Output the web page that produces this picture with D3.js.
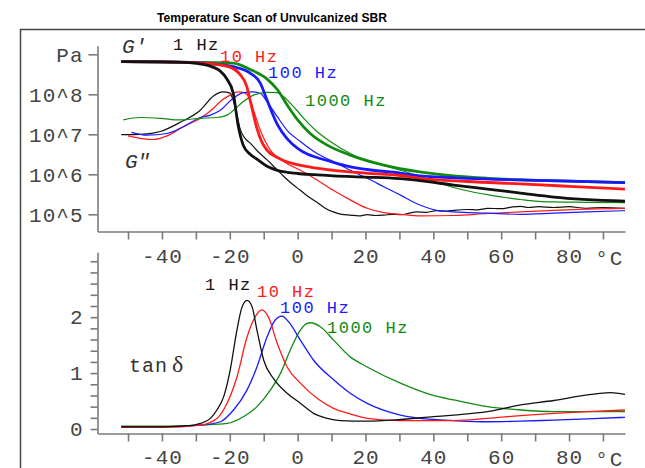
<!DOCTYPE html>
<html lang="en">
<head>
<meta charset="UTF-8">
<title>Temperature Scan of Unvulcanized SBR</title>
<script src="https://d3js.org/d3.v7.min.js"></script>
<style>
  body { margin: 0; background: #fff; }
  svg { display: block; }
  .axis text { font-family: "Liberation Mono", monospace; font-size: 21px; letter-spacing: 1px; fill: #444; }
  .axis path, .axis line { stroke: #7a7a7a; stroke-width: 1.6; }
  .lbl { font-family: "Liberation Mono", monospace; font-size: 17px; letter-spacing: 1.5px; }
</style>
</head>
<body>
<div id="chart"></div>
<script>
  // [temperature °C, log10(modulus / Pa)]
  const gp1 = [[-52, 8.815], [-40, 8.81], [-32, 8.79], [-28, 8.75], [-25, 8.68], [-22.8, 8.58], [-21, 8.4], [-19, 8.03], [-17.5, 7.2], [-16, 6.72], [-14, 6.5], [-12, 6.38], [-9, 6.2], [-6, 6.1], [-3, 6.05], [0, 6.02], [5, 5.99], [10.5, 5.96], [20, 5.93], [30, 5.89], [36, 5.84], [46, 5.73], [56, 5.63], [65.7, 5.53], [75.5, 5.43], [96.5, 5.33]];
  const gp10 = [[-52, 8.815], [-40, 8.81], [-30, 8.79], [-25, 8.76], [-20, 8.68], [-17, 8.5], [-15, 8.2], [-14, 7.85], [-12, 7.15], [-10.5, 6.8], [-9, 6.6], [-6, 6.42], [-4, 6.34], [0, 6.24], [5, 6.16], [10.5, 6.1], [20, 6.03], [30.3, 5.97], [36, 5.9], [50, 5.82], [65.7, 5.76], [80, 5.7], [96.5, 5.63]];
  const gp100 = [[-50, 8.815], [-40, 8.81], [-30, 8.79], [-25, 8.76], [-19, 8.69], [-14, 8.53], [-11, 8.28], [-9, 7.85], [-6, 7.25], [-3, 6.88], [0, 6.65], [3, 6.5], [5.7, 6.42], [10.5, 6.3], [15, 6.2], [20.5, 6.12], [30.3, 6.03], [36, 5.96], [50, 5.9], [65.7, 5.86], [80, 5.83], [96.5, 5.79]];
  const gp1000 = [[-52, 8.815], [-30, 8.8], [-19, 8.78], [-14, 8.62], [-9, 8.38], [-6, 8.12], [-3, 7.72], [0, 7.36], [3.7, 7.02], [8.7, 6.73], [15.5, 6.48], [25.4, 6.23], [36, 6.06], [46, 5.96], [56, 5.9], [65.7, 5.86], [80, 5.83], [96.5, 5.79]];

  const gpp1 = [[-52, 6.99], [-46, 7.0], [-40.5, 7.07], [-34.6, 7.3], [-28.7, 7.6], [-24.8, 7.96], [-22, 8.06], [-20, 8.03], [-18.8, 7.8], [-17.9, 7.5], [-17, 7.15], [-15.5, 6.9], [-14, 6.78], [-11.5, 6.55], [-9, 6.36], [-6.5, 6.15], [-4, 5.94], [-1.5, 5.75], [0.8, 5.6], [3, 5.45], [5.7, 5.3], [8, 5.16], [10.5, 5.06], [13, 5.0], [15.5, 4.98], [18, 4.96], [20.5, 4.99], [23, 4.97], [25.4, 4.98], [28, 5.0], [30.5, 4.99], [33, 5.03], [35, 5.06], [38, 5.05], [41, 5.09], [44, 5.08], [46, 5.1], [50, 5.12], [53, 5.11], [56, 5.15], [60, 5.14], [63, 5.18], [65.7, 5.2], [68, 5.17], [71, 5.19], [75.5, 5.17], [80, 5.19], [85, 5.15], [90, 5.17], [96.5, 5.15]];
  const gpp10 = [[-50, 6.96], [-46.4, 6.9], [-42.5, 6.87], [-38.5, 6.96], [-33.7, 7.19], [-28.7, 7.4], [-24.8, 7.65], [-22.8, 7.82], [-19.9, 7.98], [-17.5, 8.06], [-15.5, 8.03], [-14, 7.85], [-13, 7.6], [-11, 7.1], [-8, 6.6], [-4.1, 6.32], [0.8, 6.1], [5.7, 5.86], [10.5, 5.6], [15.5, 5.36], [20.5, 5.15], [25.4, 5.04], [30.3, 5.0], [36, 4.96], [46, 4.97], [56, 5.02], [65.7, 5.06], [75.5, 5.1], [85, 5.13], [96.5, 5.15]];
  const gpp100 = [[-49, 7.05], [-44.4, 6.98], [-38.5, 7.02], [-33.7, 7.19], [-28.7, 7.42], [-25.7, 7.48], [-22.8, 7.6], [-19, 7.9], [-16, 8.04], [-13, 8.06], [-11, 8.02], [-9, 7.82], [-6, 7.44], [-3.1, 7.1], [0.8, 6.82], [5.7, 6.52], [10.5, 6.32], [15.5, 6.1], [20.5, 5.9], [25.4, 5.69], [30.3, 5.48], [35, 5.27], [41, 5.1], [46, 5.06], [56, 5.03], [65.7, 5.0], [75.5, 5.03], [85, 5.06], [96.5, 5.09]];
  const gpp1000 = [[-51.4, 7.36], [-46.4, 7.42], [-40.5, 7.4], [-34.6, 7.36], [-28.7, 7.4], [-23.8, 7.42], [-20.8, 7.48], [-18.9, 7.6], [-16, 7.82], [-13, 7.98], [-9, 8.05], [-6, 8.04], [-4.1, 7.94], [-1.2, 7.69], [1.8, 7.4], [5.7, 7.07], [10.5, 6.77], [15.5, 6.52], [20.5, 6.33], [25.4, 6.22], [30.3, 6.1], [36, 5.95], [41, 5.8], [46, 5.67], [51, 5.57], [56, 5.49], [61, 5.42], [65.7, 5.37], [70, 5.33], [75.5, 5.31], [85, 5.3], [96.5, 5.29]];

  // [temperature °C, tan delta]
  const tan1 = [[-52, 0.04], [-40, 0.04], [-32, 0.06], [-28.7, 0.1], [-25.7, 0.19], [-23.8, 0.34], [-21.8, 0.58], [-19.9, 1.05], [-17.9, 1.77], [-16.4, 2.18], [-14.9, 2.3], [-13.4, 2.18], [-12, 1.77], [-10, 1.23], [-7.1, 0.9], [-3.1, 0.64], [0.8, 0.46], [4.7, 0.28], [8.7, 0.19], [12.6, 0.15], [20.5, 0.14], [30.3, 0.17], [40, 0.22], [46, 0.25], [55.9, 0.31], [65.7, 0.43], [75.5, 0.51], [85.4, 0.61], [92.2, 0.65], [96.5, 0.62]];
  const tan10 = [[-52, 0.03], [-40, 0.03], [-28.7, 0.07], [-23.8, 0.19], [-20.8, 0.46], [-17.9, 0.93], [-14.9, 1.65], [-13, 1.95], [-10.5, 2.13], [-8.6, 2.0], [-6, 1.53], [-3.1, 1.11], [0.8, 0.82], [5.7, 0.55], [10.6, 0.37], [15.5, 0.27], [20.5, 0.19], [30.3, 0.15], [40, 0.15], [46, 0.15], [56, 0.19], [65.7, 0.24], [75.5, 0.28], [85.4, 0.31], [96.5, 0.34]];
  const tan100 = [[-52, 0.04], [-40, 0.04], [-28.7, 0.07], [-22.8, 0.13], [-18.9, 0.34], [-14.9, 0.7], [-12, 1.11], [-9, 1.65], [-6.6, 1.95], [-4.6, 2.02], [-2.7, 1.92], [0.8, 1.59], [4.7, 1.23], [10.6, 0.88], [15.5, 0.64], [20.5, 0.46], [30.3, 0.25], [40, 0.17], [46, 0.15], [56, 0.13], [65.7, 0.14], [75.5, 0.16], [85.4, 0.18], [96.5, 0.21]];
  const tan1000 = [[-52, 0.05], [-40, 0.05], [-28.7, 0.07], [-20.8, 0.1], [-16, 0.22], [-12, 0.4], [-8, 0.7], [-5.1, 0.99], [-2.2, 1.41], [0.8, 1.77], [2.8, 1.89], [3.7, 1.9], [6.7, 1.83], [10.6, 1.59], [15.5, 1.29], [20.5, 1.11], [30.3, 0.82], [40, 0.6], [46, 0.52], [56, 0.4], [65.7, 0.34], [75.5, 0.31], [85.4, 0.31], [96.5, 0.31]];

  const freqs = ["1 Hz", "10 Hz", "100 Hz", "1000 Hz"];
  const colors = ["#111111", "#ff1a1a", "#1a1aff", "#118a11"];

  const xTicks = d3.range(-50, 91, 10);
  const modTicks = [1e5, 1e6, 1e7, 1e8, 1e9];
  const tanTicks = d3.range(16).map(i => i / 5);

  const width = 645, height = 468;
  const xLeft = 97.5, xRight = 625;

  const svg = d3.select("#chart").append("svg")
    .attr("width", width)
    .attr("height", height);

  // outer frame (runs off the page right and bottom)
  svg.append("path")
    .attr("d", `M20.5,${height + 5}V29.5H${width + 5}`)
    .attr("fill", "none")
    .attr("stroke", "#444")
    .attr("stroke-width", 1.5);

  svg.append("text")
    .attr("x", 272)
    .attr("y", 21.5)
    .attr("text-anchor", "middle")
    .attr("textLength", 230)
    .attr("lengthAdjust", "spacingAndGlyphs")
    .style("font-family", '"Liberation Sans Narrow", "Liberation Sans", sans-serif')
    .style("font-weight", "bold")
    .style("font-size", "13px")
    .text("Temperature Scan of Unvulcanized SBR");

  const x = d3.scaleLinear().domain([-59, 96.5]).range([xLeft, xRight]);
  const yMod = d3.scaleLog().domain([10 ** 4.57, 10 ** 9.215]).range([231.5, 45.7]);
  const yTan = d3.scaleLinear().domain([-0.08, 3.16]).range([433.5, 252.3]);

  const xAxis = pad => d3.axisBottom(x)
    .tickValues(xTicks)
    .tickSize(8)
    .tickSizeOuter(0)
    .tickPadding(pad)
    .tickFormat(d => (d % 20 === 0 ? String(d) : ""));

  // top panel axes
  svg.append("g").attr("class", "axis")
    .attr("transform", `translate(0,${yMod.range()[0]})`)
    .call(xAxis(9));

  svg.append("g").attr("class", "axis")
    .attr("transform", `translate(${xLeft},0)`)
    .call(d3.axisLeft(yMod)
      .tickValues(modTicks)
      .tickSize(9)
      .tickSizeOuter(0)
      .tickPadding(5)
      .tickFormat(d => (d >= 1e9 ? "Pa" : "10^" + Math.round(Math.log10(d)))));

  // bottom panel axes
  svg.append("g").attr("class", "axis")
    .attr("transform", `translate(0,${yTan.range()[0]})`)
    .call(xAxis(8));

  svg.append("g").attr("class", "axis")
    .attr("transform", `translate(${xLeft},0)`)
    .call(d3.axisLeft(yTan)
      .tickValues(tanTicks)
      .tickSize(7)
      .tickSizeOuter(0)
      .tickPadding(7)
      .tickFormat(d => (Number.isInteger(d) && d < 3 ? d : "")));

  svg.selectAll(".axis .domain").attr("stroke", "#7a7a7a");

  // unit labels at the end of each x axis
  [[yMod.range()[0], 33], [yTan.range()[0], 32]].forEach(([y0, off]) => {
    svg.append("text")
      .attr("x", x(92))
      .attr("y", y0 + off)
      .attr("text-anchor", "middle")
      .style("font-family", '"Liberation Mono", monospace')
      .style("font-size", "21px")
      .style("letter-spacing", "2px")
      .style("fill", "#444")
      .text("°C");
  });

  const modLine = d3.line()
    .x(d => x(d[0]))
    .y(d => yMod(10 ** d[1]))
    .curve(d3.curveMonotoneX);

  const tanLine = d3.line()
    .x(d => x(d[0]))
    .y(d => yTan(d[1]))
    .curve(d3.curveMonotoneX);

  const lossSeries = [gpp1, gpp10, gpp100, gpp1000];
  const storageSeries = [gp1, gp10, gp100, gp1000];
  const tanSeries = [tan1, tan10, tan100, tan1000];

  // G'' thin lines under the thick G' lines
  lossSeries.forEach((s, i) => {
    svg.append("path").datum(s)
      .attr("d", modLine)
      .attr("fill", "none")
      .attr("stroke", colors[i])
      .attr("stroke-width", 1.2);
  });

  [3, 2, 1, 0].forEach(i => {
    svg.append("path").datum(storageSeries[i])
      .attr("d", modLine)
      .attr("fill", "none")
      .attr("stroke", colors[i])
      .attr("stroke-width", 2.8);
  });

  [3, 2, 1, 0].forEach(i => {
    svg.append("path").datum(tanSeries[i])
      .attr("d", tanLine)
      .attr("fill", "none")
      .attr("stroke", colors[i])
      .attr("stroke-width", 1.3);
  });

  // frequency labels
  const topLabels = [[173, 50], [220, 62.3], [268, 78.3], [305, 106]];
  const bottomLabels = [[205, 290], [257, 296.7], [280, 313], [327, 332.5]];
  [topLabels, bottomLabels].forEach(pos => {
    svg.selectAll(null)
      .data(freqs)
      .enter().append("text")
      .attr("class", "lbl")
      .attr("x", (d, i) => pos[i][0])
      .attr("y", (d, i) => pos[i][1])
      .style("fill", (d, i) => colors[i])
      .text(d => d);
  });

  svg.append("text")
    .attr("x", 122).attr("y", 52.5)
    .style("font-family", '"Liberation Mono", monospace')
    .style("font-style", "italic")
    .style("font-size", "21px")
    .style("fill", "#333")
    .text("G'");

  svg.append("text")
    .attr("x", 125).attr("y", 168)
    .style("font-family", '"Liberation Mono", monospace')
    .style("font-style", "italic")
    .style("font-size", "21px")
    .style("fill", "#333")
    .text("G\"");

  const tanLabel = svg.append("text")
    .attr("x", 129).attr("y", 372)
    .style("fill", "#333");
  tanLabel.append("tspan")
    .style("font-family", '"Liberation Mono", monospace')
    .style("font-size", "20px")
    .style("letter-spacing", "1px")
    .text("tan");
  tanLabel.append("tspan")
    .attr("dx", 4)
    .style("font-family", '"Liberation Serif", serif')
    .style("font-size", "24px")
    .text("δ");
</script>
</body>
</html>
